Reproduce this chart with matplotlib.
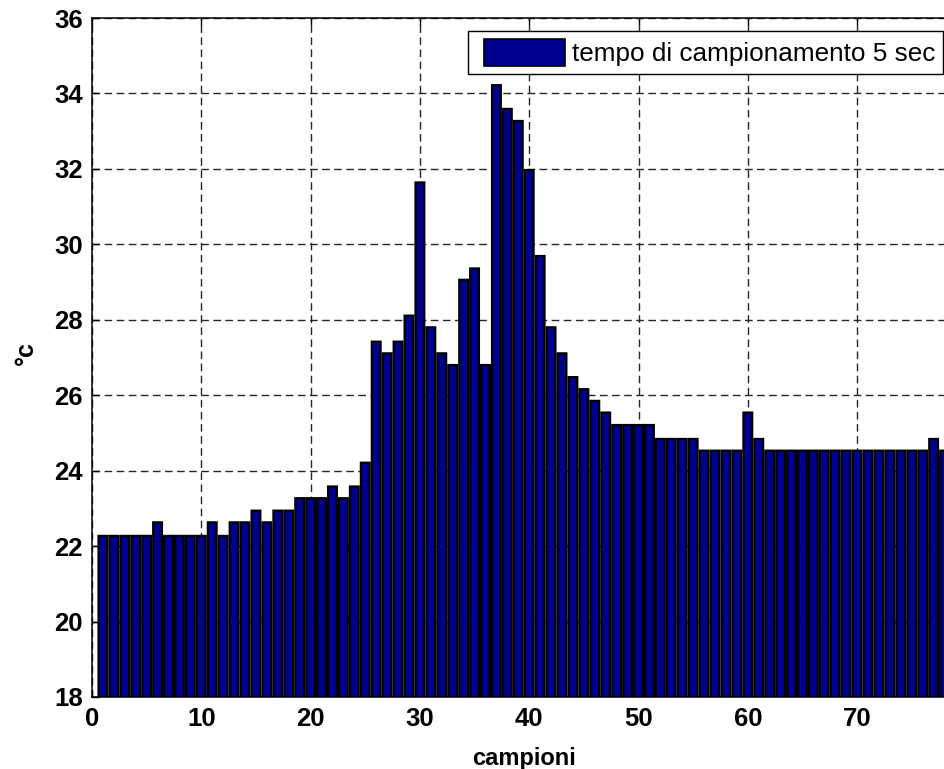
import matplotlib
matplotlib.use("Agg")
import matplotlib.pyplot as plt
from matplotlib.patches import Rectangle
from matplotlib.legend_handler import HandlerPatch
import numpy as np

plt.rcParams["font.family"] = ["Liberation Sans", "DejaVu Sans"]

# temperature readings, one every 5 seconds
temperature = [
    22.27, 22.27, 22.27, 22.27, 22.27, 22.63, 22.27, 22.27, 22.27, 22.27,
    22.63, 22.27, 22.63, 22.63, 22.94, 22.63, 22.94, 22.94, 23.27, 23.27,
    23.27, 23.58, 23.27, 23.58, 24.21, 27.42, 27.11, 27.42, 28.11, 31.64,
    27.80, 27.11, 26.80, 29.06, 29.36, 26.80, 34.22, 33.59, 33.27, 31.97,
    29.69, 27.80, 27.11, 26.48, 26.16, 25.85, 25.54, 25.21, 25.21, 25.21,
    25.21, 24.84, 24.84, 24.84, 24.84, 24.53, 24.53, 24.53, 24.53, 25.54,
    24.84, 24.53, 24.53, 24.53, 24.53, 24.53, 24.53, 24.53, 24.53, 24.53,
    24.53, 24.53, 24.53, 24.53, 24.53, 24.53, 24.84, 24.53,
]
samples = np.arange(1, len(temperature) + 1)

y_ticks = [18, 20, 22, 24, 26, 28, 30, 32, 34, 36]
x_ticks = [0, 10, 20, 30, 40, 50, 60, 70]
series_label = "tempo di campionamento 5 sec"

W, H = 944, 769
fig = plt.figure(figsize=(W / 100, H / 100), dpi=100)

# axes box (extends a little past the right border of the canvas)
left_px, right_px, top_px, bottom_px = 92, 955.5, 18, 697
ax = fig.add_axes([left_px / W, 1 - bottom_px / H,
                   (right_px - left_px) / W, (bottom_px - top_px) / H])

bars = ax.bar(samples, temperature, width=0.8, bottom=0,
              color="#00008F", edgecolor="black", linewidth=1.6,
              zorder=2)
for b in bars:
    b.set_snap(False)

ax.set_xlim(0, 79)
ax.set_ylim(18, 36)
ax.set_xticks(x_ticks)
ax.set_yticks(y_ticks)

ax.set_axisbelow(True)
ax.grid(True, color="0.15", linestyle=(0, (5.5, 3.2)), linewidth=1.0)

for s in ax.spines.values():
    s.set_linewidth(1.1)
    s.set_color("black")

ax.tick_params(axis="both", direction="in", length=5, width=1.0,
               top=True, right=True, labelsize=18.5)
ax.tick_params(axis="y", pad=6.5)
ax.tick_params(axis="x", pad=7)
for lab in ax.get_xticklabels() + ax.get_yticklabels():
    lab.set_fontweight("bold")

ax.set_xlabel("campioni", fontsize=17, fontweight="bold", labelpad=12)
ax.set_ylabel("°c", fontsize=18, fontweight="bold")
ax.yaxis.set_label_coords(-0.063, 0.507)


def inset_patch(legend, orig_handle, xdescent, ydescent, width, height, fontsize):
    # legend swatch with some extra space on its left side
    offset = 8 / 100 * 72  # points
    return Rectangle((-xdescent + offset, -ydescent), width - offset, height)


fs = 18.8
fs_px = fs * 100 / 72
leg = fig.legend(handles=[bars[0]], labels=[series_label],
                 loc="upper right",
                 bbox_to_anchor=(943 / W, 1 - 31.5 / H),
                 fontsize=fs, frameon=True, fancybox=False, shadow=False,
                 framealpha=1, edgecolor="black",
                 handlelength=89 / fs_px, handleheight=31 / fs_px,
                 handletextpad=7 / fs_px, borderpad=0.3, borderaxespad=0,
                 handler_map={Rectangle: HandlerPatch(patch_func=inset_patch)})
leg.get_frame().set_linewidth(1.0)
for h in leg.legend_handles:
    h.set_linewidth(1.2)

fig.savefig("out.png", dpi=100)
